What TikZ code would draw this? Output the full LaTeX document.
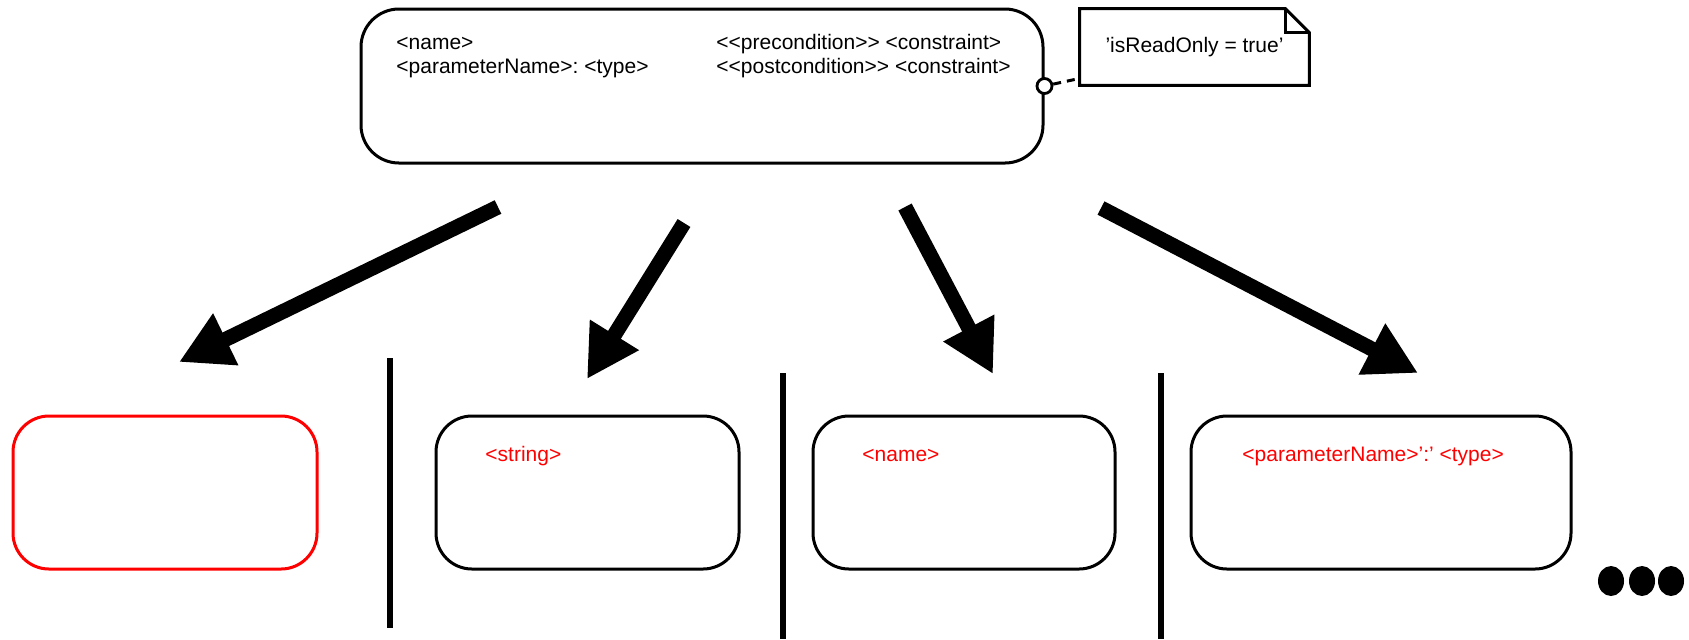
\documentclass[tikz,border=0pt]{standalone}
\usepackage{fontspec}
\setmainfont{Liberation Sans}
\usetikzlibrary{positioning, arrows.meta, calc}
\frenchspacing

\begin{document}
\begin{tikzpicture}[x=0.5pt, y=-0.5pt, font=\fontsize{10.5}{12.6}\selectfont,
  box/.style={draw, line width=1.5pt, rounded corners=18pt, inner sep=0pt},
  opbox/.style={box, rounded corners=19pt, minimum width=341pt, minimum height=77pt},
  altbox/.style={box, minimum height=76.5pt},
  txt/.style={inner sep=0pt, anchor=base west},
  redtxt/.style={txt, text=red},
  notebox/.style={line width=1.5pt, line join=miter},
  bigarrow/.style={-{Triangle[length=26pt, width=27pt]}, line width=7.5pt},
  separator/.style={line width=3.2pt}]
  \useasboundingbox (0,0) rectangle (1689,639);
  % operation box and its note
  \node[opbox] (op) at (702,86) {};
  \node[txt] (opname)  at (396,49) {<name>};
  \node[txt] (opparam) at (396,73) {<parameterName>: <type>};
  \node[txt] (oppre)   at (716,49) {<{}<precondition>{}> <constraint>};
  \node[txt] (oppost)  at (716,73) {<{}<postcondition>{}> <constraint>};
  \node[circle, draw, line width=1.4pt, fill=white, minimum size=7.5pt, inner sep=0pt] (port) at (op.east) {};
  \node[minimum width=114.5pt, minimum height=38pt, inner sep=0pt] (note) at (1194.5,47) {’isReadOnly = true’};
  \draw[notebox] (note.south west) -- (note.north west) -- ([xshift=-12pt]note.north east)
    -- ([yshift=-12pt]note.north east) -- (note.south east) -- cycle;
  \draw[notebox] ([xshift=-12pt]note.north east) |- ([yshift=-12pt]note.north east);
  \draw[line width=1.5pt, dash pattern=on 4pt off 3pt] (port) -- ([yshift=3.5pt]note.south west);
  % alternatives
  \node[altbox, draw=red, minimum width=152pt] (empty) at (165,492.5) {};
  \node[altbox, minimum width=151.5pt] (str)   at (587.5,492.5) {};
  \node[altbox, minimum width=151pt]   (nm)    at (964,492.5) {};
  \node[altbox, minimum width=190pt]   (param) at (1381,492.5) {};
  \node[redtxt] (strlabel)   at (485,461)  {<string>};
  \node[redtxt] (nmlabel)    at (862,461)  {<name>};
  \node[redtxt] (paramlabel) at (1242,461) {<parameterName>’:’ <type>};
  \draw[separator] (390,358) -- (390,628);
  \draw[separator] (783,373) -- (783,639);
  \draw[separator] (1161,373) -- (1161,639);
  \foreach \cx in {1611,1642,1671}
    \fill (\cx,581) ellipse [x radius=6.5pt, y radius=7.5pt];
  % arrows
  \coordinate (from1) at (498,207);  \coordinate (to1) at (179,362);
  \coordinate (from2) at (684,223);  \coordinate (to2) at (587,379);
  \coordinate (from3) at (905,207);  \coordinate (to3) at (993,374);
  \coordinate (from4) at (1101,208); \coordinate (to4) at (1418,373);
  \draw[bigarrow] (from1) -- (to1);
  \draw[bigarrow] (from2) -- (to2);
  \draw[bigarrow] (from3) -- (to3);
  \draw[bigarrow] (from4) -- (to4);
\end{tikzpicture}
\end{document}
